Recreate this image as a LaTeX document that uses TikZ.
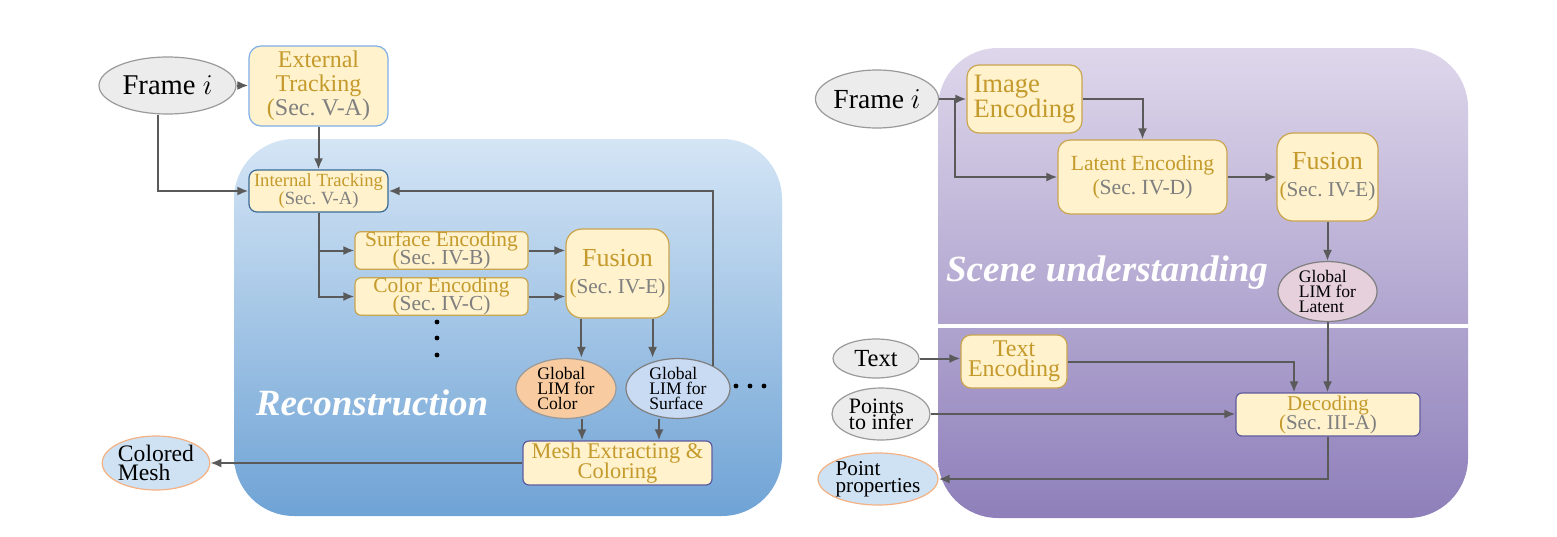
\documentclass[tikz,border=0pt]{standalone}
\usepackage{fontspec}
\setmainfont{Liberation Serif}
\usetikzlibrary{shapes.geometric,arrows.meta}
\definecolor{cream}{HTML}{FFF2CC}
\definecolor{goldtxt}{HTML}{C49A2C}
\definecolor{secgray}{HTML}{7F7F7F}
\definecolor{arrgray}{HTML}{5A5A5A}
\definecolor{ellgray}{HTML}{ECECEC}
\definecolor{ellborder}{HTML}{9A9A9A}
\definecolor{orangefill}{HTML}{F8CBA0}
\definecolor{bluefill}{HTML}{C9DAF3}
\definecolor{outfill}{HTML}{CFE2F3}
\definecolor{outborder}{HTML}{F4B183}
\definecolor{pinkfill}{HTML}{E6D0DC}
\definecolor{goldborder}{HTML}{C9A550}
\definecolor{lightblueborder}{HTML}{7FAEE6}
\definecolor{darkblueborder}{HTML}{3A6A96}
\definecolor{purpleborder}{HTML}{5E5A9E}
\definecolor{recTop}{HTML}{D4E5F5}
\definecolor{recBot}{HTML}{6FA3D5}
\definecolor{scnTop}{HTML}{DED7EB}
\definecolor{scnBot}{HTML}{8E7FBA}
\newcommand{\mysecref}[1]{{\color{goldtxt}(}{\color{secgray}Sec.~#1)}}
\newcommand{\tightlines}{\lineskiplimit=-20pt\relax}
\tikzset{
  box/.style={draw=goldborder, fill=cream, line width=0.6pt, rounded corners=3pt,
    inner sep=0pt, align=center, text=goldtxt},
  ell/.style={ellipse, draw=ellborder, fill=ellgray, line width=0.6pt, inner sep=0pt, align=left},
  arr/.style={draw=arrgray, line width=1pt, -{Latex[length=5.5pt,width=4.5pt]}},
  bigtitle/.style={text=white, font=\fontsize{18.5}{20}\selectfont\bfseries\itshape}
}
\begin{document}
\begin{tikzpicture}[x=0.5pt,y=-0.5pt]
\useasboundingbox (0,0) rectangle (1557,536);
% panels
\shade[top color=recTop, bottom color=recBot, rounded corners=30pt] (234,139) rectangle (782,516);
\shade[top color=scnTop, bottom color=scnBot, rounded corners=30pt] (938,48) rectangle (1468,518);
\draw[white, line width=1.6pt] (938,326) -- (1468,326);
\node[bigtitle] (recT) at (372,403) {Reconstruction};
\node[bigtitle] (scnT) at (1107,273) {Scene understanding};

% ---------- left ----------
\node[ell, minimum width=68.5pt, minimum height=28.5pt, font=\fontsize{14.3}{15}\selectfont] (frameL) at (167.5,85.5) {Frame $i$};
\node[box, draw=lightblueborder, rounded corners=6pt, minimum width=69.5pt, minimum height=40pt, font=\fontsize{12}{12}\selectfont] (extT) at (318.5,86) {External\\Tracking\\\mysecref{V-A}};
\node[box, draw=darkblueborder, rounded corners=4pt, minimum width=69.5pt, minimum height=21pt, font=\fontsize{9.3}{9}\selectfont] (intT) at (318.5,191) {Internal Tracking\\\mysecref{V-A}};
\node[box, minimum width=86.5pt, minimum height=18.5pt, font=\fontsize{10.7}{9}\selectfont\tightlines] (surf) at (441.5,250.5) {Surface Encoding\\\mysecref{IV-B}};
\node[box, minimum width=86.5pt, minimum height=18.5pt, font=\fontsize{10.7}{9}\selectfont\tightlines] (colE) at (441.5,296.5) {Color Encoding\\\mysecref{IV-C}};
\node[box, rounded corners=8pt, minimum width=51.5pt, minimum height=44.5pt, font=\fontsize{10.6}{13.5}\selectfont] (fusL) at (617.5,273.5) {{\fontsize{13}{13}\selectfont Fusion}\\\mysecref{IV-E}};
\node[ell, fill=orangefill, minimum width=50pt, minimum height=27.5pt, font=\fontsize{8.8}{7.5}\selectfont] (glimC) at (566,388.5) {Global\\LIM for\\Color};
\node[ell, fill=bluefill, draw=secgray, minimum width=52pt, minimum height=27.5pt, font=\fontsize{8.8}{7.5}\selectfont] (glimS) at (678,388.5) {Global\\LIM for\\Surface};
\node[box, draw=purpleborder, minimum width=94.5pt, minimum height=22pt, font=\fontsize{11.2}{9.7}\selectfont\tightlines] (mesh) at (617.5,463) {Mesh Extracting \&\\Coloring};
\node[ell, fill=outfill, draw=outborder, minimum width=50pt, minimum height=27pt, font=\fontsize{11.8}{9.5}\selectfont] (cmesh) at (156,463) {Colored\\Mesh};
% dots
\fill (437,322) circle (1.2pt);
\fill (437,338) circle (1.2pt);
\fill (437,355) circle (1.2pt);
\fill (736,386) circle (1.2pt);
\fill (750,386) circle (1.2pt);
\fill (764,386) circle (1.2pt);

% left connectors
\draw[arr] (frameL.east) -- (extT.west |- frameL.east);
\draw[arr] ([xshift=-5pt]frameL.south) |- (intT.west);
\draw[arr] (extT.south) -- (intT.north);
\draw[arr] (intT.south) |- (surf.west);
\draw[arr] (intT.south) |- (colE.west);
\draw[arr] (surf.east) -- (surf.east -| fusL.west);
\draw[arr] (colE.east) -- (colE.east -| fusL.west);
\draw[arr] ([xshift=8pt]fusL.south west) -- ([xshift=8pt]fusL.south west |- glimC.north);
\draw[arr] ([xshift=-8.5pt]fusL.south east) -- ([xshift=-8.5pt]fusL.south east |- glimS.north);
\draw[arr] (glimS.33) |- (intT.east);
\draw[arr] ([xshift=8pt]glimC.south) -- ([xshift=8pt]glimC.south |- mesh.north);
\draw[arr] ([xshift=-9.5pt]glimS.south) -- ([xshift=-9.5pt]glimS.south |- mesh.north);
\draw[arr] (mesh.west) -- (cmesh.east);

% ---------- right ----------
\node[ell, minimum width=55pt, minimum height=29pt, font=\fontsize{13.8}{15}\selectfont] (frameR) at (877,99) {Frame $i$};
\node[box, rounded corners=6pt, minimum width=57.5pt, minimum height=34pt, align=left, font=\fontsize{13.3}{12.5}\selectfont] (imgE) at (1024.5,99) {Image\\Encoding};
\node[box, rounded corners=6pt, minimum width=84.5pt, minimum height=37pt, font=\fontsize{10.8}{12}\selectfont] (latE) at (1142.5,177) {Latent Encoding\\\mysecref{IV-D}};
\node[box, rounded corners=8pt, minimum width=50.5pt, minimum height=44pt, font=\fontsize{10.6}{13.5}\selectfont] (fusR) at (1327.5,177) {{\fontsize{13}{13}\selectfont Fusion}\\\mysecref{IV-E}};
\node[ell, fill=pinkfill, draw=secgray, minimum width=49.5pt, minimum height=26.5pt, font=\fontsize{8.8}{7.5}\selectfont] (glimL) at (1327.5,291.5) {Global\\LIM for\\Latent};
\node[ell, minimum width=43pt, minimum height=19.5pt, font=\fontsize{12.3}{13}\selectfont] (textN) at (876,358.5) {Text};
\node[box, rounded corners=5pt, minimum width=53pt, minimum height=26.5pt, font=\fontsize{12}{10}\selectfont] (textE) at (1014,361.5) {Text\\Encoding};
\node[ell, minimum width=49pt, minimum height=26pt, font=\fontsize{11}{8}\selectfont] (pts) at (881,414) {Points\\to infer};
\node[box, draw=purpleborder, minimum width=92pt, minimum height=21.5pt, font=\fontsize{10.5}{9.5}\selectfont\tightlines] (dec) at (1328,414.5) {Decoding\\\mysecref{III-A}};
\node[ell, fill=outfill, draw=outborder, minimum width=50pt, minimum height=26pt, font=\fontsize{10.6}{8.5}\selectfont] (pprop) at (878,479) {Point\\properties};

% right connectors
\draw[arr] (frameR.east) -- (imgE.west |- frameR.east);
\draw[arr] ([xshift=8pt]frameR.east) |- (latE.west);
\draw[arr] (imgE.east) -| (latE.north);
\draw[arr] (latE.east) -- (latE.east -| fusR.west);
\draw[arr] (fusR.south) -- (glimL.north);
\draw[arr] (glimL.south) -- (glimL.south |- dec.north);
\draw[arr] (textN.east) -- (textN.east -| textE.west);
\draw[arr] (textE.east) -| ([xshift=-17pt]dec.north);
\draw[arr] (pts.east) -- (pts.east -| dec.west);
\draw[arr] (dec.south) |- (pprop.east);
\end{tikzpicture}
\end{document}
